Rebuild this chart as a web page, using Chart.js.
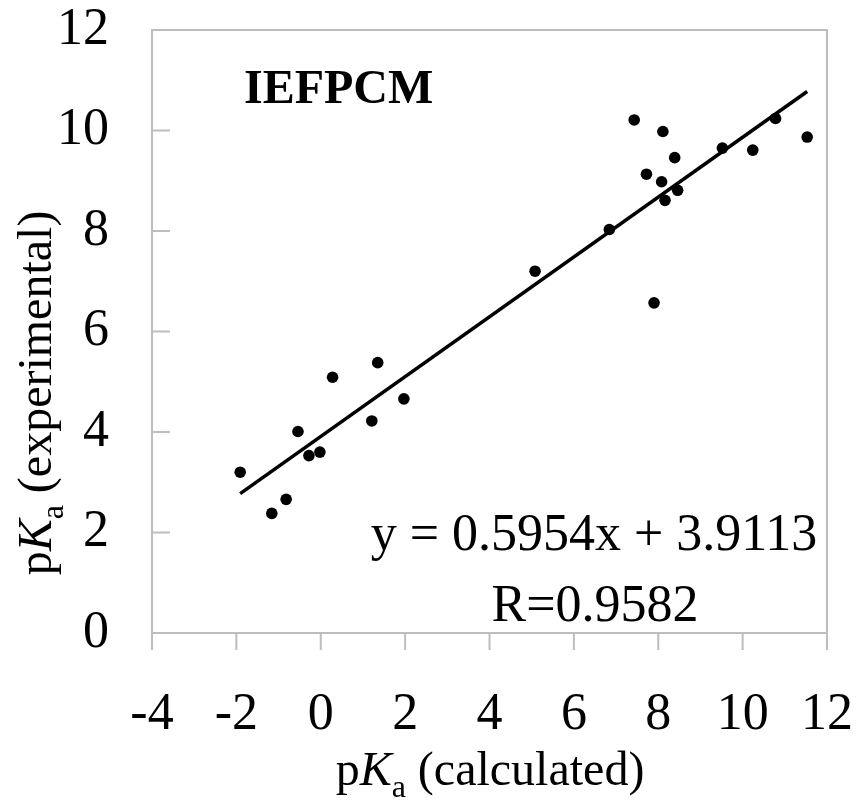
<!DOCTYPE html>
<html>
<head>
<meta charset="utf-8">
<script src="https://cdn.jsdelivr.net/npm/chart.js@4.4.0/dist/chart.umd.min.js"></script>
<style>
  html, body { margin: 0; padding: 0; background: #ffffff; }
  canvas { display: block; }
</style>
</head>
<body>
<canvas id="pka-chart" width="856" height="802" style="width:856px;height:802px"></canvas>
<script>
// pKa values
const calcPKa = [-1.91, -1.16, -0.82, -0.54, -0.28, -0.02, 0.28, 1.21, 1.35, 1.97,
  5.08, 6.84, 7.43, 7.72, 7.90, 8.11, 8.08, 8.16, 8.39, 8.46, 9.52, 10.24, 10.78, 11.53];
const expPKa = [3.20, 2.38, 2.66, 4.01, 3.53, 3.60, 5.09, 4.22, 5.38, 4.66,
  7.20, 8.03, 10.21, 9.13, 6.57, 9.98, 8.98, 8.61, 9.46, 8.81, 9.65, 9.61, 10.24, 9.87];

// trendline as printed on the chart
const fitSlope = 0.5954;
const fitIntercept = 3.9113;
const fitText = ['y = 0.5954x + 3.9113', 'R=0.9582'];
const methodLabel = 'IEFPCM';

const xTicks = [-4, -2, 0, 2, 4, 6, 8, 10, 12];
const yTicks = [0, 2, 4, 6, 8, 10, 12];

const SERIF = '"Liberation Serif", "Times New Roman", Times, serif';
const AXIS_GREY = '#bdbdbd';

const points = calcPKa.map((x, i) => ({ x: x, y: expPKa[i] }));
const xMin = Math.min(...calcPKa);
const xMax = Math.max(...calcPKa);
const fitLine = [
  { x: xMin, y: fitSlope * xMin + fitIntercept },
  { x: xMax, y: fitSlope * xMax + fitIntercept }
];

// draws "pKa" with italic K and subscript a, followed by the rest of the title
function drawPKaTitle(ctx, rest, cx, baseline) {
  const parts = [
    { text: 'p', font: `48px ${SERIF}`, dy: 0 },
    { text: 'K', font: `italic 48px ${SERIF}`, dy: 0 },
    { text: 'a', font: `32px ${SERIF}`, dy: 12 },
    { text: rest, font: `48px ${SERIF}`, dy: 0 }
  ];
  let total = 0;
  parts.forEach(p => {
    ctx.font = p.font;
    p.w = ctx.measureText(p.text).width;
    total += p.w;
  });
  let x = cx - total / 2;
  ctx.textAlign = 'left';
  ctx.textBaseline = 'alphabetic';
  parts.forEach(p => {
    ctx.font = p.font;
    ctx.fillText(p.text, x, baseline + p.dy);
    x += p.w;
  });
}

// fixed axis sizes, and no extra room for the end labels
function fixAxis(size) {
  return function(scale) {
    if (scale.isHorizontal()) {
      scale.height = size;
    } else {
      scale.width = size;
    }
    scale.paddingTop = 0;
    scale.paddingBottom = 0;
    scale.paddingLeft = 0;
    scale.paddingRight = 0;
  };
}

const framePlugin = {
  id: 'frame',
  beforeDatasetsDraw(chart) {
    const { ctx, chartArea, scales } = chart;
    ctx.save();
    ctx.strokeStyle = AXIS_GREY;
    ctx.lineWidth = 2;
    ctx.strokeRect(chartArea.left, chartArea.top,
      chartArea.right - chartArea.left, chartArea.bottom - chartArea.top);
    ctx.beginPath();
    // x ticks point down, outside the plot
    xTicks.forEach(v => {
      const px = scales.x.getPixelForValue(v);
      ctx.moveTo(px, chartArea.bottom);
      ctx.lineTo(px, chartArea.bottom + 17);
    });
    // y ticks point right, into the plot
    yTicks.forEach(v => {
      const py = scales.y.getPixelForValue(v);
      ctx.moveTo(chartArea.left, py);
      ctx.lineTo(chartArea.left + 18, py);
    });
    ctx.stroke();
    ctx.restore();
  },
  afterDraw(chart) {
    const { ctx } = chart;
    ctx.save();
    ctx.fillStyle = '#000000';

    ctx.font = `bold 48px ${SERIF}`;
    ctx.textAlign = 'left';
    ctx.textBaseline = 'alphabetic';
    ctx.fillText(methodLabel, 244, 103);

    ctx.font = `52px ${SERIF}`;
    ctx.textAlign = 'center';
    ctx.fillText(fitText[0], 594, 550);
    ctx.fillText(fitText[1], 595, 621);

    drawPKaTitle(ctx, ' (calculated)', 490, 785);

    ctx.translate(51, 393);
    ctx.rotate(-Math.PI / 2);
    drawPKaTitle(ctx, ' (experimental)', 0, 0);
    ctx.restore();
  }
};

Chart.defaults.font.family = SERIF;
Chart.defaults.color = '#000000';

new Chart(document.getElementById('pka-chart'), {
  type: 'scatter',
  data: {
    datasets: [
      {
        data: points,
        pointRadius: 5.8,
        pointBackgroundColor: '#000000',
        pointBorderWidth: 0
      },
      {
        type: 'line',
        data: fitLine,
        showLine: true,
        borderColor: '#000000',
        borderWidth: 3.5,
        pointRadius: 0,
        fill: false
      }
    ]
  },
  options: {
    responsive: false,
    animation: false,
    layout: { padding: { left: 0, right: 29, top: 30, bottom: 0 } },
    plugins: {
      legend: { display: false },
      tooltip: { enabled: false }
    },
    scales: {
      x: {
        type: 'linear',
        min: -4,
        max: 12,
        grid: { display: false, drawTicks: false },
        border: { display: false },
        ticks: {
          stepSize: 2,
          padding: 56,
          maxRotation: 0,
          font: { size: 52, lineHeight: 1 }
        },
        afterFit: fixAxis(169)
      },
      y: {
        type: 'linear',
        min: 0,
        max: 12,
        grid: { display: false, drawTicks: false },
        border: { display: false },
        ticks: {
          stepSize: 2,
          padding: 43,
          font: { size: 52, lineHeight: 1 }
        },
        afterFit: fixAxis(152)
      }
    }
  },
  plugins: [framePlugin]
});
</script>
</body>
</html>
